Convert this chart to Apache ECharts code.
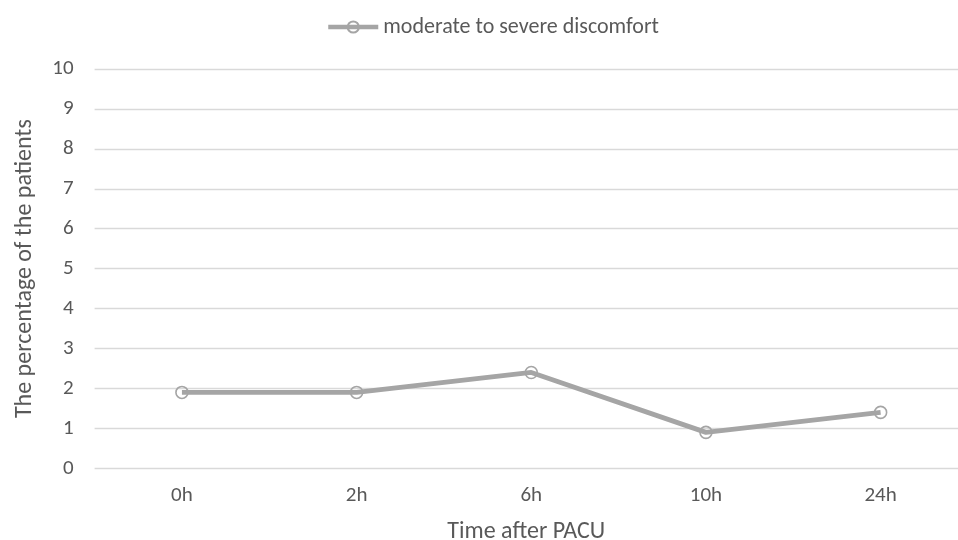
<!DOCTYPE html>
<html><head><meta charset="utf-8">
<script src="https://cdn.jsdelivr.net/npm/echarts@6/dist/echarts.min.js"></script>
<style>html,body{margin:0;padding:0;background:#fff}#c{width:958px;height:540px}</style>
</head><body><div id="c"></div>
<script>
const categories = ['0h', '2h', '6h', '10h', '24h'];
const seriesName = 'moderate to severe discomfort';
const values = [1.9, 1.9, 2.4, 0.9, 1.4];
const yTicks = { min: 0, max: 10, interval: 1 };
const font = 'Carlito, "Open Sans", "Noto Sans", sans-serif';
const catIdx = categories.map((c, i) => i);
const chart = echarts.init(document.getElementById('c'));
chart.setOption({
  animation: false,
  textStyle: { fontFamily: font },
  legend: {
    top: 11, left: 321,
    itemWidth: 50, itemHeight: 14, itemGap: 10,
    lineStyle: { width: 4.5, color: '#a5a5a5' },
    textStyle: { color: '#595959', fontSize: 22, fontFamily: font },
    data: [seriesName]
  },
  grid: { left: 94.6, right: 0, top: 69, bottom: 71.7, containLabel: false, outerBoundsMode: 'none' },
  xAxis: {
    type: 'value', min: -0.5, max: 4.443,
    splitLine: { show: false },
    axisLine: { show: false }, axisTick: { show: false },
    axisLabel: {
      color: '#595959', fontSize: 21, margin: 17, fontFamily: font,
      customValues: catIdx,
      formatter: v => categories[Math.round(v)]
    },
    name: 'Time after PACU', nameLocation: 'middle', nameGap: 52,
    nameTextStyle: { color: '#595959', fontSize: 24, fontFamily: font }
  },
  yAxis: {
    type: 'value', min: yTicks.min, max: yTicks.max, interval: yTicks.interval,
    axisLine: { show: false }, axisTick: { show: false },
    axisLabel: { color: '#595959', fontSize: 21, margin: 21, fontFamily: font },
    splitLine: { lineStyle: { color: '#d9d9d9', width: 1.3 } },
    name: 'The percentage of the patients', nameLocation: 'middle', nameGap: 58,
    nameTextStyle: { color: '#595959', fontSize: 24, fontFamily: font }
  },
  series: [{
    name: seriesName, type: 'line', data: values.map((v, i) => [catIdx[i], v]),
    symbol: 'circle', symbolSize: 12,
    lineStyle: { color: '#a5a5a5', width: 4.8 },
    itemStyle: { color: 'rgba(255,255,255,0)', borderColor: '#a5a5a5', borderWidth: 1.6 }
  }]
});
</script></body></html>
